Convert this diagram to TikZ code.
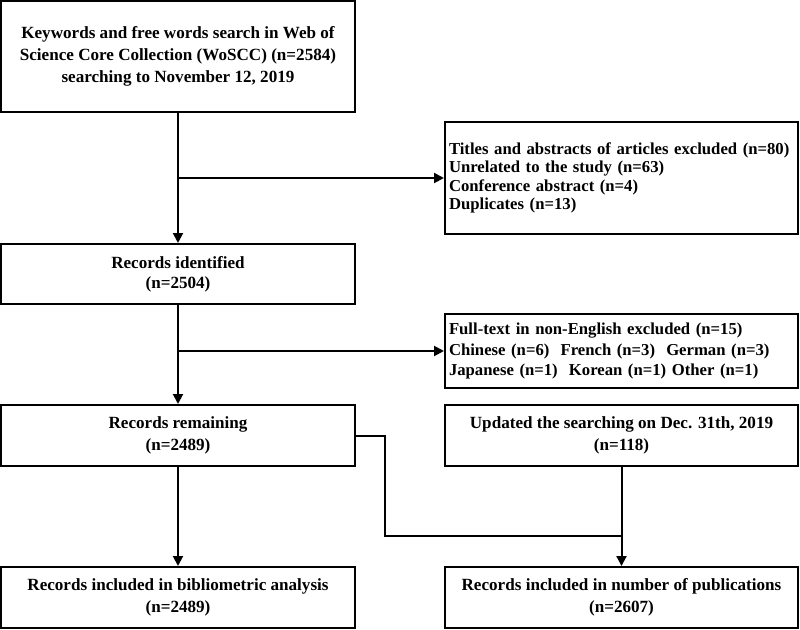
\documentclass[tikz,border=0pt]{standalone}
\usepackage{fontspec}
\setmainfont{Liberation Serif}
\usetikzlibrary{arrows.meta, positioning}

\begin{document}
\begin{tikzpicture}[x=1pt, y=-1pt, every node/.style={font=\fontsize{17.1}{21.7}\selectfont\bfseries}, align=center,
    box/.style={draw, line width=2pt, minimum width=354pt, inner xsep=4pt},
    listbox/.style={box, minimum width=353pt, text width=345pt, align=left},
    link/.style={line width=2pt},
    arr/.style={link, -{Triangle[length=10pt, width=10pt]}}]
  \useasboundingbox (0,0) rectangle (800,629);
  % left column
  \node (search) [box, minimum height=111pt] at (178,56.5) {Keywords and free words search in Web of\\Science Core Collection (WoSCC) (n=2584)\\searching to November 12, 2019};
  \node (ident) [box, minimum height=60pt, font=\fontsize{17.1}{20}\selectfont\bfseries] at (178,274) {Records identified\\(n=2504)};
  \node (remain) [box, minimum height=61pt] at (178,435.5) {Records remaining\\(n=2489)};
  \node (biblio) [box, minimum height=61pt] at (178,597.5) {Records included in bibliometric analysis\\(n=2489)};
  % right column
  \node (excl) [listbox, minimum height=112pt, font=\fontsize{16.7}{18.3}\selectfont\bfseries] at (621.5,178) {Titles and abstracts of articles excluded (n=80)\\Unrelated to the study (n=63)\\Conference abstract (n=4)\\Duplicates (n=13)};
  \node (lang) [listbox, minimum height=74pt, font=\fontsize{16.7}{20.7}\selectfont\bfseries] at (621.5,351) {Full-text in non-English excluded (n=15)\\Chinese (n=6)\ \ French (n=3)\ \ German (n=3)\\Japanese (n=1)\ \ Korean (n=1) Other (n=1)};
  \node (update) [box, minimum width=353pt, minimum height=61pt] at (621.5,435.5) {Updated the searching on Dec. 31th, 2019\\(n=118)};
  \node (pubs) [box, minimum width=353pt, minimum height=61pt] at (621.5,597.5) {Records included in number of publications\\(n=2607)};
  % connectors
  \draw [arr] (search) -- (ident);
  \draw [arr] (search.south |- excl.west) -- (excl.west);
  \draw [arr] (ident) -- (remain);
  \draw [arr] (ident.south |- lang.west) -- (lang.west);
  \draw [arr] (remain) -- (biblio);
  \coordinate (join) at (update.south |- 0,536);
  \draw [link] (remain.east) -- ++(29,0) |- (join);
  \draw [arr] (update) -- (pubs);
\end{tikzpicture}
\end{document}
